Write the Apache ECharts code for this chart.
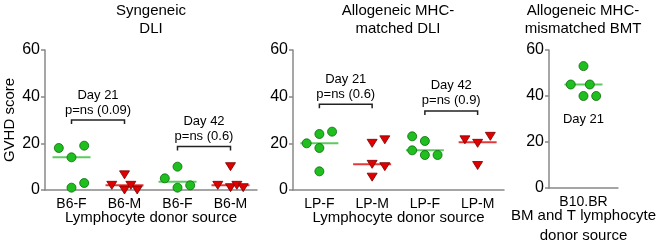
<!DOCTYPE html>
<html>
<head>
<meta charset="utf-8">
<script src="https://cdn.jsdelivr.net/npm/echarts@6/dist/echarts.min.js"></script>
<style>
  html, body { margin: 0; padding: 0; background: #fff; }
  #main { width: 659px; height: 251px; }
</style>
</head>
<body>
<div id="main"></div>
<script>
// 类别
var synCats = ['B6-F', 'B6-M', 'B6-F', 'B6-M'];
var matCats = ['LP-F', 'LP-M', 'LP-F', 'LP-M'];
var misCats = ['B10.BR'];
var yTicks = [0, 20, 40, 60];

// 每个点: [类别序号, GVHD 分数, 抖动位置]
var synF = [[0,18,-1],[0,14,0],[0,19,1],[0,1,0],[0,3,1],
            [2,5,-1],[2,10,0],[2,1,0],[2,2,1]];
var synM = [[1,2,-1],[1,6.5,0],[1,0,0],[1,2,0.5],[1,0,1],
            [3,2,-1],[3,10,0],[3,1,0],[3,2,0.5],[3,1,1]];
var matF = [[0,20,-1],[0,24,0],[0,25,1],[0,18,0],[0,8,0],
            [2,23,-1],[2,21,0],[2,17,-1],[2,15,0],[2,15,1]];
var matM = [[1,20,0],[1,21.5,1],[1,11,0],[1,10,1],[1,5.5,0],
            [3,21.5,-1],[3,20,0],[3,10.5,0],[3,23,1]];
var misF = [[0,53,0],[0,45,-1],[0,45,0.5],[0,40,0],[0,40,1]];

// 中位数 [类别序号, 值]
var synFMed = [[0,14],[2,3.5]];
var synMMed = [[1,2],[3,2]];
var matFMed = [[0,20],[2,17]];
var matMMed = [[1,11],[3,20.5]];
var misFMed = [[0,45]];

// 括号 [起, 高度, 止] 和文字
var synBr = [[0,30,1],[2,18.6,3]];
var synBrText = [['Day 21','p=ns (0.09)'],['Day 42','p=ns (0.6)']];
var matBr = [[0,36.7,1],[2,33.9,3]];
var matBrText = [['Day 21','p=ns (0.6)'],['Day 42','p=ns (0.9)']];
var misLabel = [[0,29.6]];
var misLabelText = ['Day 21'];

var FONT = 'Liberation Sans, Arial, sans-serif';
var GREEN = '#1fbf1f', GREEN_D = '#0b6a0b', GREEN_L = '#5ccb5c';
var RED = '#e00000', RED_D = '#7a0000', RED_L = '#e23a3a';
var AXIS = '#888888';

function dots(arr, grid, isTri) {
    return {
        type: 'scatter',
        xAxisIndex: grid, yAxisIndex: grid,
        symbol: isTri ? 'triangle' : 'circle',
        symbolSize: isTri ? [10, 8] : 9,
        symbolRotate: isTri ? 180 : 0,
        z: 5,
        silent: true,
        itemStyle: {
            color: isTri ? RED : GREEN,
            borderColor: isTri ? RED_D : GREEN_D,
            borderWidth: 0.8,
            opacity: 1
        },
        data: arr.map(function (d) {
            return { value: [d[0], d[1]], symbolOffset: [d[2] * 12.7, 0] };
        })
    };
}

function medians(arr, grid, color) {
    return {
        type: 'custom',
        xAxisIndex: grid, yAxisIndex: grid,
        z: 3,
        silent: true,
        data: arr,
        renderItem: function (params, api) {
            var p = api.coord([api.value(0), api.value(1)]);
            return {
                type: 'line',
                shape: { x1: p[0] - 19, y1: p[1], x2: p[0] + 19, y2: p[1] },
                style: { stroke: color, lineWidth: 2 }
            };
        }
    };
}

function brackets(arr, texts, grid) {
    return {
        type: 'custom',
        xAxisIndex: grid, yAxisIndex: grid,
        encode: { x: 0, y: 1 },
        z: 4,
        silent: true,
        data: arr,
        renderItem: function (params, api) {
            var a = api.coord([api.value(0), api.value(1)]);
            var b = api.coord([api.value(2), api.value(1)]);
            var t = texts[params.dataIndex];
            var cx = (a[0] + b[0]) / 2;
            return {
                type: 'group',
                children: [
                    {
                        type: 'polyline',
                        shape: { points: [[a[0], a[1] + 4], [a[0], a[1]], [b[0], b[1]], [b[0], b[1] + 4]] },
                        style: { stroke: '#222', fill: null, lineWidth: 1.5 }
                    },
                    {
                        type: 'text',
                        style: { text: t[0], x: cx, y: a[1] - 25, align: 'center', verticalAlign: 'middle',
                                 fontSize: 13, fontFamily: FONT, fill: '#000' }
                    },
                    {
                        type: 'text',
                        style: { text: t[1], x: cx, y: a[1] - 10, align: 'center', verticalAlign: 'middle',
                                 fontSize: 13, fontFamily: FONT, fill: '#000' }
                    }
                ]
            };
        }
    };
}

function labels(arr, texts, grid) {
    return {
        type: 'custom',
        xAxisIndex: grid, yAxisIndex: grid,
        z: 4,
        silent: true,
        data: arr,
        renderItem: function (params, api) {
            var p = api.coord([api.value(0), api.value(1)]);
            return {
                type: 'text',
                style: { text: texts[params.dataIndex], x: p[0], y: p[1], align: 'center', verticalAlign: 'middle',
                         fontSize: 13, fontFamily: FONT, fill: '#000' }
            };
        }
    };
}

function xAxis(cats, grid, name) {
    return {
        type: 'category',
        gridIndex: grid,
        data: cats,
        boundaryGap: true,
        axisLine: { lineStyle: { color: AXIS, width: 1.5 } },
        axisTick: { alignWithLabel: true, length: 4, lineStyle: { color: AXIS, width: 1.5 } },
        axisLabel: { color: '#000', fontSize: 14, fontFamily: FONT, margin: 7 },
        splitLine: { show: false },
        name: name,
        nameLocation: 'middle',
        nameGap: 18,
        nameMoveOverlap: false,
        nameTextStyle: { color: '#000', fontSize: 15, fontFamily: FONT, lineHeight: 20, verticalAlign: 'top' }
    };
}

function yAxis(grid, name) {
    return {
        type: 'value',
        gridIndex: grid,
        min: yTicks[0],
        max: yTicks[yTicks.length - 1],
        interval: yTicks[1] - yTicks[0],
        axisLine: { show: true, lineStyle: { color: AXIS, width: 1.5 } },
        axisTick: { show: true, length: 4, lineStyle: { color: AXIS, width: 1.5 } },
        axisLabel: { color: '#000', fontSize: 16, fontFamily: FONT, margin: 5 },
        splitLine: { show: false },
        name: name || '',
        nameLocation: 'middle',
        nameGap: 28,
        nameMoveOverlap: false,
        nameTextStyle: { color: '#000', fontSize: 15, fontFamily: FONT }
    };
}

var myChart = echarts.init(document.getElementById('main'));
var option = {
    animation: false,
    backgroundColor: '#fff',
    grid: [
        { left: 45, top: 50, width: 212, height: 140 },
        { left: 293, top: 50, width: 211, height: 140 },
        { left: 549, top: 50, width: 70, height: 140 }
    ],
    xAxis: [
        xAxis(synCats, 0, 'Lymphocyte donor source'),
        xAxis(matCats, 1, 'Lymphocyte donor source'),
        xAxis(misCats, 2, 'BM and T lymphocyte\ndonor source')
    ],
    yAxis: [yAxis(0, 'GVHD score'), yAxis(1), yAxis(2)],
    graphic: [
        { type: 'text', x: 151, y: 2, style: { text: 'Syngeneic\nDLI', align: 'center', fontSize: 15, fontFamily: FONT, fill: '#000', lineHeight: 18 } },
        { type: 'text', x: 398, y: 2, style: { text: 'Allogeneic MHC-\nmatched DLI', align: 'center', fontSize: 15, fontFamily: FONT, fill: '#000', lineHeight: 18 } },
        { type: 'text', x: 583, y: 2, style: { text: 'Allogeneic MHC-\nmismatched BMT', align: 'center', fontSize: 15, fontFamily: FONT, fill: '#000', lineHeight: 18 } }
    ],
    series: [
        medians(synFMed, 0, GREEN_L),
        medians(synMMed, 0, RED_L),
        dots(synF, 0, false),
        dots(synM, 0, true),
        brackets(synBr, synBrText, 0),

        medians(matFMed, 1, GREEN_L),
        medians(matMMed, 1, RED_L),
        dots(matF, 1, false),
        dots(matM, 1, true),
        brackets(matBr, matBrText, 1),

        medians(misFMed, 2, GREEN_L),
        dots(misF, 2, false),
        labels(misLabel, misLabelText, 2)
    ]
};
if (option && typeof option === "object") {
    myChart.setOption(option, true);
}
</script>
</body>
</html>
